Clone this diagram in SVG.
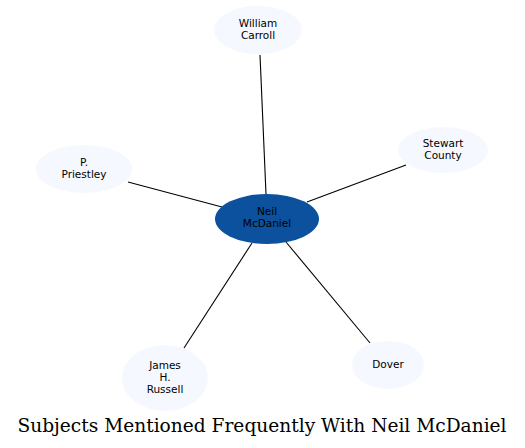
<svg xmlns="http://www.w3.org/2000/svg" width="525" height="448" viewBox="0 0 525 448">
<style>
.n{fill:#f5f8fe;stroke:none}
.c{fill:#0b519e;stroke:none}
.t{font-family:"DejaVu Sans",sans-serif;font-size:10.5px;fill:#000;text-anchor:middle}
.e{stroke:#000;stroke-width:1.1;fill:none}
.title{font-family:"DejaVu Serif",serif;font-size:18.6px;fill:#000;text-anchor:middle}
</style>
<rect width="525" height="448" fill="#fff"/>
<g id="connectors">
<line class="e" x1="266" y1="194" x2="260" y2="55"/>
<line class="e" x1="307" y1="202" x2="406" y2="165"/>
<line class="e" x1="222" y1="207" x2="128" y2="182"/>
<line class="e" x1="286" y1="242" x2="370" y2="343"/>
<line class="e" x1="252" y1="243" x2="184" y2="348"/>
</g>
<g id="william-carroll">
<ellipse class="n" cx="258" cy="30" rx="44" ry="24"/>
<text class="t" x="258" y="27">William</text>
<text class="t" x="258" y="39">Carroll</text>
</g>
<g id="stewart-county">
<ellipse class="n" cx="443" cy="150" rx="45" ry="23"/>
<text class="t" x="443" y="147">Stewart</text>
<text class="t" x="443" y="159">County</text>
</g>
<g id="p-priestley">
<ellipse class="n" cx="84" cy="169" rx="48" ry="24"/>
<text class="t" x="84" y="166">P.</text>
<text class="t" x="84" y="178">Priestley</text>
</g>
<g id="dover">
<ellipse class="n" cx="388" cy="365" rx="36" ry="24"/>
<text class="t" x="388" y="368">Dover</text>
</g>
<g id="james-h-russell">
<ellipse class="n" cx="165" cy="378" rx="43" ry="33"/>
<text class="t" x="165" y="369">James</text>
<text class="t" x="165" y="381">H.</text>
<text class="t" x="165" y="393">Russell</text>
</g>
<g id="neil-mcdaniel">
<ellipse class="c" cx="267" cy="219" rx="52" ry="25"/>
<text class="t" x="267" y="215">Neil</text>
<text class="t" x="267" y="227">McDaniel</text>
</g>
<text class="title" x="262" y="432">Subjects Mentioned Frequently With Neil McDaniel</text>
</svg>
